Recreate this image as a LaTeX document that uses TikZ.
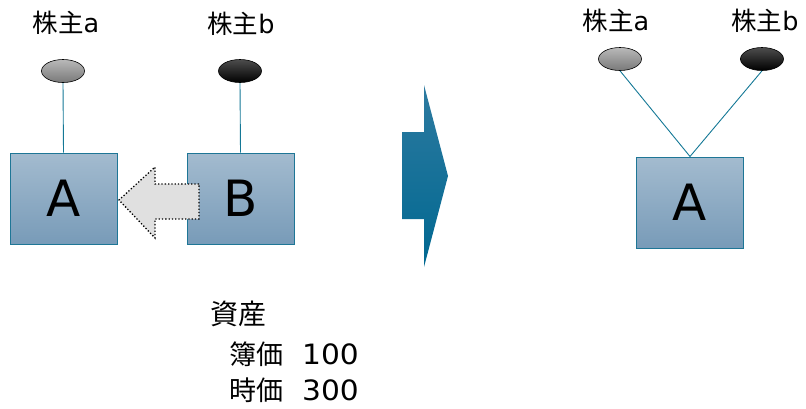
\documentclass[tikz,border=0pt]{standalone}
\usepackage{fontspec}
\setmainfont{DejaVu Sans}
\newfontfamily\cjk{Noto Sans CJK JP}
\newfontfamily\widedigits[FakeStretch=1.06]{DejaVu Sans}
\usetikzlibrary{shapes.geometric}
\definecolor{boxtop}{RGB}{163,187,207}
\definecolor{boxbot}{RGB}{120,155,184}
\definecolor{boxline}{RGB}{30,118,150}
\definecolor{linkc}{RGB}{20,120,150}
\definecolor{arrtop}{RGB}{45,122,160}
\definecolor{arrbot}{RGB}{0,104,145}
\tikzset{
  cobox/.style={draw=boxline, line width=1pt, top color=boxtop, bottom color=boxbot,
    minimum width=107pt, minimum height=91pt, inner sep=0pt, text depth=0pt,
    font=\fontsize{50}{50}\selectfont},
  holdera/.style={ellipse, draw=black, line width=0.6pt, inner sep=0pt,
    minimum width=43pt, minimum height=23pt, top color=gray!55, bottom color=gray!95!black},
  holderb/.style={ellipse, draw=black, line width=0.6pt, inner sep=0pt,
    minimum width=43pt, minimum height=23pt, top color=black!70, bottom color=black},
  lbl/.style={font=\fontsize{25.5}{26}\selectfont, inner sep=0pt},
  link/.style={draw=linkc, line width=0.9pt},
  btxt/.style={font=\fontsize{28}{28}\selectfont, inner sep=0pt, anchor=base west}
}
\begin{document}
\begin{tikzpicture}[x=1pt,y=-1pt]
\useasboundingbox (0,0) rectangle (806,408);
% left
\node[lbl] (la) at (66,23) {{\cjk 株主}a};
\node[lbl] (lb) at (241,24) {{\cjk 株主}b};
\node[holdera] (ea) at (63,71) {};
\node[holderb] (eb) at (240,71) {};
\node[cobox] (A) at (63.5,198.5) {A};
\node[cobox] (B) at (240.5,198.5) {B};
\draw[link] (ea.south) -- (A.north);
\draw[link] (eb.south) -- (B.north);
% dotted transfer arrow
\draw[fill=black!12, dotted, line width=1.3pt]
  (199,184) -- (155,184) -- (155,167) -- (119,200) -- (155,238) -- (155,219) -- (199,219) -- cycle;
% big middle arrow
\shade[top color=arrtop, bottom color=arrbot]
  (402,132) -- (424,132) -- (424,85) -- (448,176) -- (424,267) -- (424,219) -- (402,219) -- cycle;
% right
\node[lbl] (ra) at (616,21) {{\cjk 株主}a};
\node[lbl] (rb) at (765,21) {{\cjk 株主}b};
\node[holdera] (ea2) at (620,59) {};
\node[holderb] (eb2) at (762,59) {};
\node[cobox] (A2) at (690,202.5) {A};
\draw[link] (ea2.south) -- (A2.north);
\draw[link] (eb2.south) -- (A2.north);
% bottom text
\node[btxt] (t1) at (210,324) {\cjk 資産};
\node[btxt] (t2) at (229,364) {{\cjk\fontsize{27}{27}\selectfont 簿価}\hspace{19pt}{\widedigits 100}};
\node[btxt] (t3) at (229,400) {{\cjk\fontsize{27}{27}\selectfont 時価}\hspace{19pt}{\widedigits 300}};
\end{tikzpicture}
\end{document}
